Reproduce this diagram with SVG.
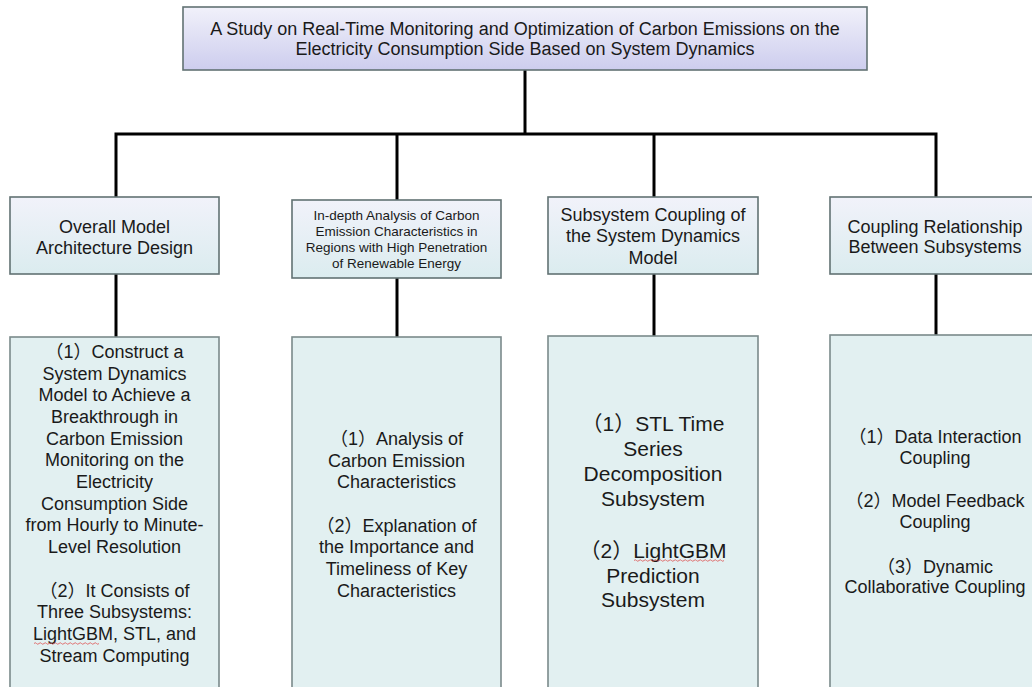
<svg xmlns="http://www.w3.org/2000/svg" width="1032" height="687" viewBox="0 0 1032 687">
<defs>
<linearGradient id="gTitle" x1="0" y1="0" x2="0" y2="1">
<stop offset="0" stop-color="#f1f1fa"/>
<stop offset="1" stop-color="#cdcdee"/>
</linearGradient>
<linearGradient id="gMid" x1="0" y1="0" x2="0" y2="1">
<stop offset="0" stop-color="#f1f2fa"/>
<stop offset="1" stop-color="#dbecef"/>
</linearGradient>
</defs>
<style>
text{font-family:"Liberation Sans","Noto Sans CJK SC",Arial,sans-serif;fill:#1a1a1a;text-anchor:middle}
.t18{font-size:18px}
.t13{font-size:13.5px}
.t21{font-size:21px}
.title{fill:url(#gTitle);stroke:#627273;stroke-width:1.6}
.mid{fill:url(#gMid);stroke:#627273;stroke-width:1.6}
.low{fill:#e2f0f1;stroke:#7b8a8b;stroke-width:1.6}
.conn{fill:none;stroke:#000;stroke-width:3}
.squig{fill:none;stroke:#e05050;stroke-width:0.8}
</style>

<g id="connectors">
<path class="conn" d="M525 70 V134"/>
<path class="conn" d="M116 197 V134 H936 V197"/>
<path class="conn" d="M397 134 V200"/>
<path class="conn" d="M654 134 V197"/>
<path class="conn" d="M116 274 V337"/>
<path class="conn" d="M397 278 V337"/>
<path class="conn" d="M654 274 V336"/>
<path class="conn" d="M936 274 V335"/>
</g>

<g id="title">
<rect class="title" x="183" y="7" width="684" height="63"/>
<text class="t18" x="525" y="35">A Study on Real-Time Monitoring and Optimization of Carbon Emissions on the</text>
<text class="t18" x="525" y="55">Electricity Consumption Side Based on System Dynamics</text>
</g>

<g id="node-overall">
<rect class="mid" x="10" y="197" width="209" height="77"/>
<text class="t18" x="114.5" y="232.5">Overall Model</text>
<text class="t18" x="114.5" y="253.5">Architecture Design</text>
</g>

<g id="node-indepth">
<rect class="mid" x="292" y="200" width="209" height="78"/>
<text class="t13" x="396.5" y="219.5">In-depth Analysis of Carbon</text>
<text class="t13" x="396.5" y="235.7">Emission Characteristics in</text>
<text class="t13" x="396.5" y="251.9">Regions with High Penetration</text>
<text class="t13" x="396.5" y="268.1">of Renewable Energy</text>
</g>

<g id="node-subsystem">
<rect class="mid" x="548" y="197" width="210" height="77"/>
<text class="t18" x="653" y="220.7">Subsystem Coupling of</text>
<text class="t18" x="653" y="242.3">the System Dynamics</text>
<text class="t18" x="653" y="264">Model</text>
</g>

<g id="node-coupling">
<rect class="mid" x="830" y="197" width="212" height="77"/>
<text class="t18" x="935" y="232.7">Coupling Relationship</text>
<text class="t18" x="935" y="252.7">Between Subsystems</text>
</g>

<g id="detail-overall">
<rect class="low" x="10" y="337" width="209" height="360"/>
<text class="t18" x="114.5" y="358">（1）Construct a</text>
<text class="t18" x="114.5" y="379.7">System Dynamics</text>
<text class="t18" x="114.5" y="401.3">Model to Achieve a</text>
<text class="t18" x="114.5" y="423">Breakthrough in</text>
<text class="t18" x="114.5" y="444.7">Carbon Emission</text>
<text class="t18" x="114.5" y="466.3">Monitoring on the</text>
<text class="t18" x="114.5" y="488">Electricity</text>
<text class="t18" x="114.5" y="509.7">Consumption Side</text>
<text class="t18" x="114.5" y="531.3">from Hourly to Minute-</text>
<text class="t18" x="114.5" y="553">Level Resolution</text>
<text class="t18" x="114.5" y="596.7">（2）It Consists of</text>
<text class="t18" x="114.5" y="618.3">Three Subsystems:</text>
<text class="t18" x="114.5" y="640">LightGBM, STL, and</text>
<text class="t18" x="114.5" y="661.7">Stream Computing</text>
<path class="squig" d="M34 643.5 q1.25 -1.5 2.5 0 t2.5 0 t2.5 0 t2.5 0 t2.5 0 t2.5 0 t2.5 0 t2.5 0 t2.5 0 t2.5 0 t2.5 0 t2.5 0 t2.5 0 t2.5 0 t2.5 0 t2.5 0 t2.5 0 t2.5 0 t2.5 0 t2.5 0 t2.5 0 t2.5 0 t2.5 0 t2.5 0 t2.5 0 t2.5 0"/>
</g>

<g id="detail-indepth">
<rect class="low" x="292" y="337" width="209" height="360"/>
<text class="t18" x="396.5" y="445">（1）Analysis of</text>
<text class="t18" x="396.5" y="466.7">Carbon Emission</text>
<text class="t18" x="396.5" y="488.3">Characteristics</text>
<text class="t18" x="396.5" y="531.7">（2）Explanation of</text>
<text class="t18" x="396.5" y="553.3">the Importance and</text>
<text class="t18" x="396.5" y="575">Timeliness of Key</text>
<text class="t18" x="396.5" y="596.7">Characteristics</text>
</g>

<g id="detail-subsystem">
<rect class="low" x="548" y="336" width="210" height="360"/>
<text class="t21" x="653" y="430.7">（1）STL Time</text>
<text class="t21" x="653" y="455.7">Series</text>
<text class="t21" x="653" y="480.7">Decomposition</text>
<text class="t21" x="653" y="505.7">Subsystem</text>
<text class="t21" x="653" y="557.5">（2）LightGBM</text>
<text class="t21" x="653" y="582.5">Prediction</text>
<text class="t21" x="653" y="607">Subsystem</text>
<path class="squig" d="M634 560.5 q1.25 -1.5 2.5 0 t2.5 0 t2.5 0 t2.5 0 t2.5 0 t2.5 0 t2.5 0 t2.5 0 t2.5 0 t2.5 0 t2.5 0 t2.5 0 t2.5 0 t2.5 0 t2.5 0 t2.5 0 t2.5 0 t2.5 0 t2.5 0 t2.5 0 t2.5 0 t2.5 0 t2.5 0 t2.5 0 t2.5 0 t2.5 0 t2.5 0 t2.5 0 t2.5 0 t2.5 0 t2.5 0 t2.5 0 t2.5 0 t2.5 0 t2.5 0 t2.5 0"/>
</g>

<g id="detail-coupling">
<rect class="low" x="830" y="335" width="212" height="360"/>
<text class="t18" x="935" y="443.3">（1）Data Interaction</text>
<text class="t18" x="935" y="464.3">Coupling</text>
<text class="t18" x="935" y="506.7">（2）Model Feedback</text>
<text class="t18" x="935" y="527.7">Coupling</text>
<text class="t18" x="935" y="572.7">（3）Dynamic</text>
<text class="t18" x="935" y="593.3">Collaborative Coupling</text>
</g>
</svg>
